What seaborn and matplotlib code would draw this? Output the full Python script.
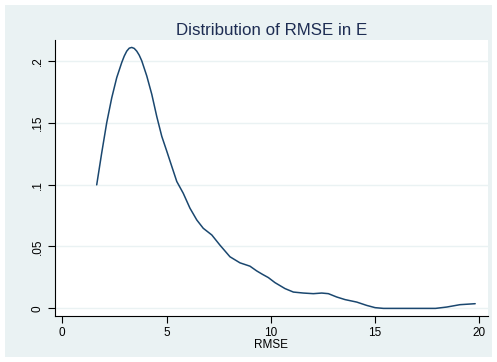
import matplotlib
matplotlib.use("Agg")
import matplotlib.pyplot as plt
import matplotlib.patches as mpatches
import seaborn as sns
import pandas as pd

rmse = [1.65, 1.89, 2.13, 2.37, 2.61, 2.85, 2.97, 3.09, 3.21, 3.33, 3.45, 3.57, 3.69, 3.81,
        4.05, 4.29, 4.53, 4.77, 5.01, 5.25, 5.49, 5.80, 6.12, 6.45, 6.76, 7.17, 7.56, 8.04,
        8.52, 9.0, 9.32, 9.6, 9.88, 10.2, 10.68, 11.08, 11.56, 12.04, 12.44, 12.76, 13.16,
        13.56, 14.12, 14.6, 15.0, 15.4, 16.7, 17.9, 18.44, 19.07, 19.8]
density = [0.0998, 0.1256, 0.150, 0.170, 0.1864, 0.1986, 0.2038, 0.2078, 0.2102, 0.2108,
           0.2100, 0.2078, 0.2045, 0.2000, 0.1878, 0.173, 0.155, 0.139, 0.127, 0.1147,
           0.1025, 0.093, 0.081, 0.0714, 0.0647, 0.0593, 0.0511, 0.0417, 0.0368, 0.0341,
           0.0303, 0.0275, 0.0249, 0.0208, 0.016, 0.0132, 0.0124, 0.0119, 0.0124, 0.0119,
           0.0092, 0.0071, 0.0051, 0.0024, 0.0006, 0.0, 0.0, 0.0, 0.0011, 0.003, 0.0038]
xticks = [0, 5, 10, 15, 20]
yticks = [0, 0.05, 0.1, 0.15, 0.2]
ytick_labels = ["0", ".05", ".1", ".15", ".2"]

df = pd.DataFrame({"RMSE": rmse, "density": density})

sns.set_theme(style="white")
plt.rcParams['font.family'] = ['Liberation Sans', 'DejaVu Sans']

bg = "#EAF2F3"
fig = plt.figure(figsize=(4.97, 3.62), dpi=100, facecolor="white")
fig.patches.append(mpatches.Rectangle((5/497, 5/362), 487/497, 352/362,
                                      transform=fig.transFigure, facecolor=bg,
                                      edgecolor="none", zorder=-10))
ax = fig.add_axes([55/497, 1 - 315.7/362, (487.7 - 55)/497, (315.7 - 40)/362])
ax.set_facecolor("white")

for yt in yticks:
    ax.axhline(yt, color=bg, lw=1.0, zorder=0)

sns.lineplot(data=df, x="RMSE", y="density", ax=ax, color="#1a476f", lw=1.1)

ax.set_xlim(-0.35, 20.4)
ax.set_ylim(-0.0059, 0.2168)
ax.set_xticks(xticks)
ax.set_xticklabels([str(t) for t in xticks], fontsize=8.5, color="black")
ax.set_yticks(yticks)
ax.set_yticklabels(ytick_labels, fontsize=8.5, color="black", rotation=90, va="center")
ax.tick_params(axis="both", direction="out", length=5, width=0.8, color="black",
               bottom=True, left=True, pad=3)
ax.set_xlabel("RMSE", fontsize=8.5, color="black", labelpad=0)
ax.set_ylabel("")
for s in ["top", "right"]:
    ax.spines[s].set_visible(False)
for s in ["left", "bottom"]:
    ax.spines[s].set_color("black")
    ax.spines[s].set_linewidth(0.8)

fig.text((55 + 487.7) / 2 / 497, 1 - 30.5/362, "Distribution of RMSE in E", ha="center",
         va="center", fontsize=12.2, color="#1e2d53")

fig.savefig("out.png", dpi=100, facecolor="white")
